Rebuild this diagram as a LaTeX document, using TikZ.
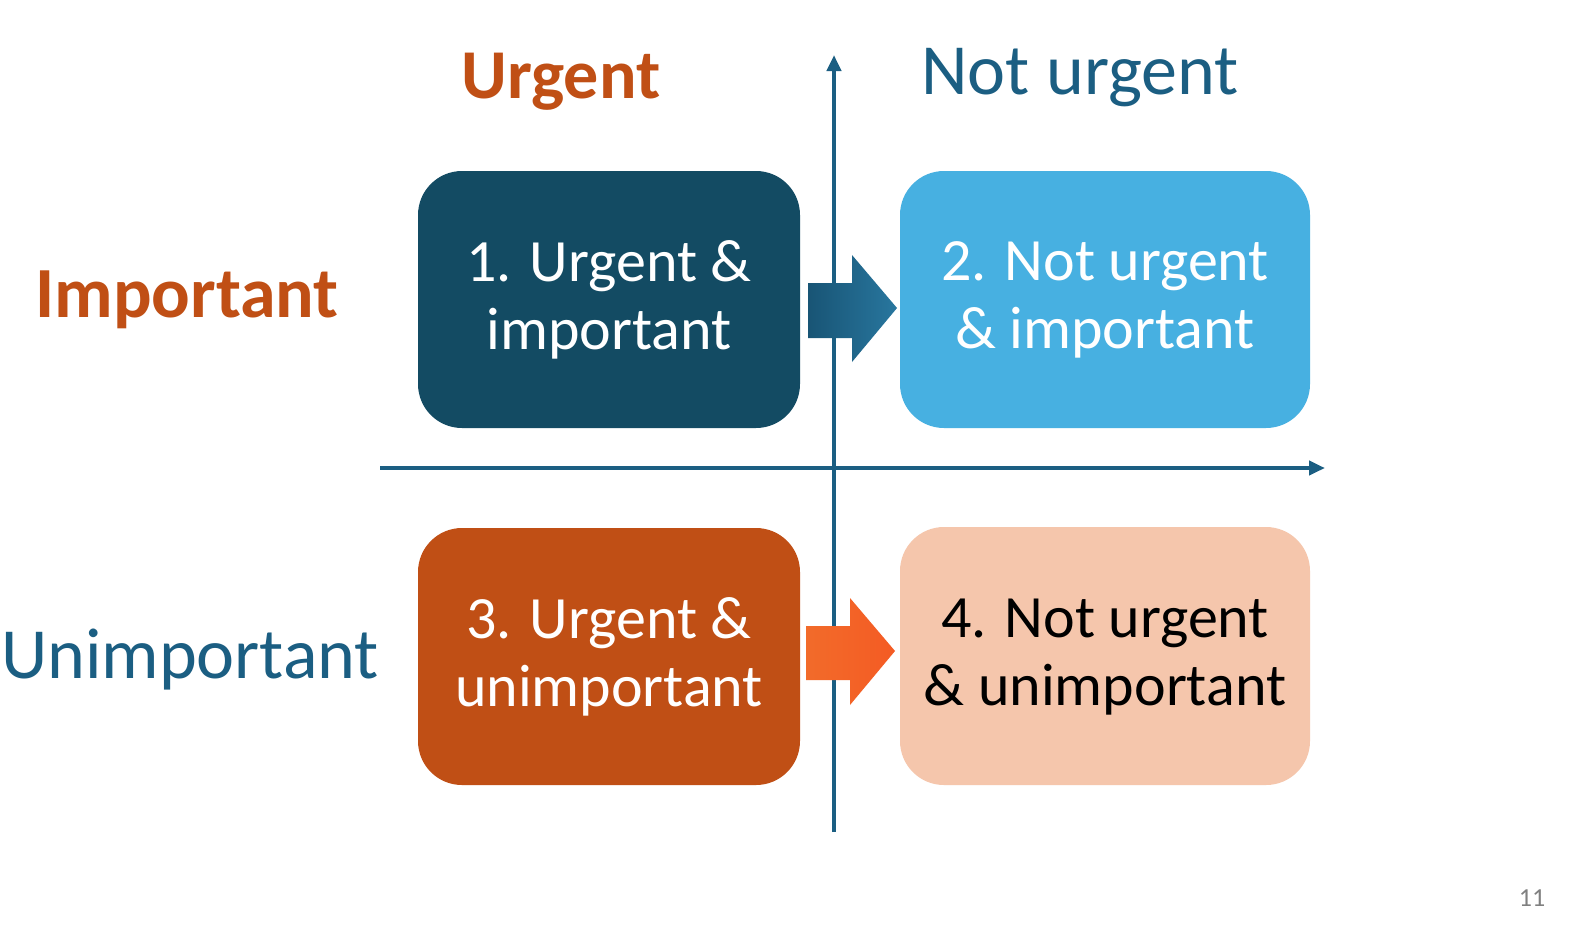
\documentclass[tikz,border=0pt]{standalone}
\usepackage{fontspec}
\setmainfont{Carlito}
\usetikzlibrary{arrows.meta}
\definecolor{dteal}{HTML}{134B63}
\definecolor{lblue}{HTML}{47B0E1}
\definecolor{rust}{HTML}{C04F15}
\definecolor{peach}{HTML}{F5C6AC}
\definecolor{axis}{HTML}{1B5E82}
\definecolor{orng}{HTML}{F26B2A}
\begin{document}
\begin{tikzpicture}[x=0.5pt,y=-0.5pt,
  quad/.style={align=center,font=\fontsize{30}{34}\selectfont},
  ax/.style={axis,line width=2.2pt,-{Triangle[length=8pt,width=7pt]}}]
\fill[white] (0,0) rectangle (1585,927);
\fill[dteal,rounded corners=22pt] (418,171) rectangle (800,428);
\fill[lblue,rounded corners=22pt] (900,171) rectangle (1310,428);
\fill[rust,rounded corners=22pt] (418,528) rectangle (800,785);
\fill[peach,rounded corners=22pt] (900,527) rectangle (1310,785);
\node[quad,text=white] (q1) at (609,300) {1. Urgent \&\\important};
\node[quad,text=white] (q2) at (1105,300) {2. Not urgent\\\& important};
\node[quad,text=white] (q3) at (609,657) {3. Urgent \&\\unimportant};
\node[quad,text=black] (q4) at (1105,657) {4. Not urgent\\\& unimportant};
\coordinate (vb) at (834,832); \coordinate (vt) at (834,55);
\coordinate (hl) at (380,468); \coordinate (hr) at (1325,468);
\draw[ax] (vb) -- (vt);
\draw[ax] (hl) -- (hr);
\shade[left color=axis!90!black,right color=axis!70!lblue]
  (808,283) -- (852,283) -- (852,255) -- (897,308) -- (852,362) -- (852,338) -- (808,338) -- cycle;
\shade[left color=orng,right color=orng!85!red]
  (806,626) -- (850,626) -- (850,598) -- (895,651) -- (850,705) -- (850,680) -- (806,680) -- cycle;
\node[text=rust,font=\bfseries\fontsize{35}{40}\selectfont] (u) at (561,82) {Urgent};
\node[text=axis,font=\fontsize{36}{42}\selectfont] (nu) at (1080,78) {Not urgent};
\node[text=rust,font=\bfseries\fontsize{36}{42}\selectfont] (im) at (187,300) {Important};
\node[text=axis,font=\fontsize{36}{42}\selectfont] (un) at (190,660) {Unimportant};
\node[text=gray,font=\fontsize{13}{15}\selectfont] (pg) at (1532,898) {11};
\pgfresetboundingbox
\useasboundingbox (0,0) rectangle (1585,927);
\end{tikzpicture}
\end{document}
